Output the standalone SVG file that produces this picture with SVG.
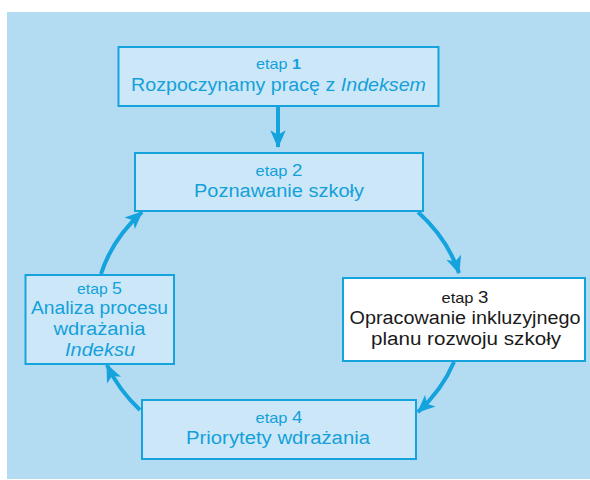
<svg xmlns="http://www.w3.org/2000/svg" width="590" height="480" viewBox="0 0 590 480">
<defs>
<style>
.box{fill:#cce8f8;stroke:#14a3dd;stroke-width:2}
.white{fill:#ffffff;stroke:#14a3dd;stroke-width:2}
text{font-family:"Liberation Sans","Noto Sans",sans-serif;text-anchor:middle;fill:#14a0da}
.sm{font-size:15px}
.num{font-size:17px}
.big{font-size:18px}
.blk{fill:#1a1a1a}
.conn{fill:none;stroke:#14a3dd;stroke-width:4}
</style>
<marker id="ah" markerUnits="userSpaceOnUse" markerWidth="20" markerHeight="20" viewBox="-16 -8 18 16" refX="0" refY="0" orient="auto">
<path d="M1,0 L-15,-7 L-11,0 L-15,7 Z" fill="#14a3dd"/>
</marker>
</defs>
<rect x="7" y="12" width="583" height="467" fill="#b3dcf3"/>
<g id="connectors">
<line class="conn" x1="278" y1="106" x2="278" y2="147" stroke-width="3.5" marker-end="url(#ah)"/>
<path class="conn" d="M418,212 A185,150 0 0 1 459,273" marker-end="url(#ah)"/>
<path class="conn" d="M454,362 A185,150 0 0 1 418,412" marker-end="url(#ah)"/>
<path class="conn" d="M140,410 A185,150 0 0 1 107,365" marker-end="url(#ah)"/>
<path class="conn" d="M101,274 A185,150 0 0 1 142,212" marker-end="url(#ah)"/>
</g>
<g id="etap1">
<rect class="box" x="118.5" y="47" width="320" height="59"/>
<text x="278.5" y="69" class="sm" textLength="45" lengthAdjust="spacingAndGlyphs">etap <tspan font-weight="bold">1</tspan></text>
<text x="278.5" y="91" class="big" textLength="295" lengthAdjust="spacingAndGlyphs">Rozpoczynamy pracę z <tspan font-style="italic">Indeksem</tspan></text>
</g>
<g id="etap2">
<rect class="box" x="135" y="153" width="288" height="58"/>
<text x="279" y="176" class="sm" textLength="47" lengthAdjust="spacingAndGlyphs">etap <tspan class="num">2</tspan></text>
<text x="279" y="197" class="big" textLength="170" lengthAdjust="spacingAndGlyphs">Poznawanie szkoły</text>
</g>
<g id="etap3">
<rect class="white" x="343" y="278" width="242" height="83"/>
<text x="465" y="303" class="sm blk" textLength="47" lengthAdjust="spacingAndGlyphs">etap <tspan class="num">3</tspan></text>
<text x="465" y="324" class="big blk" textLength="231" lengthAdjust="spacingAndGlyphs">Opracowanie inkluzyjnego</text>
<text x="466" y="345" class="big blk" textLength="190" lengthAdjust="spacingAndGlyphs">planu rozwoju szkoły</text>
</g>
<g id="etap4">
<rect class="box" x="142" y="400" width="274" height="59"/>
<text x="279" y="423" class="sm" textLength="47" lengthAdjust="spacingAndGlyphs">etap <tspan class="num">4</tspan></text>
<text x="278" y="444" class="big" textLength="184" lengthAdjust="spacingAndGlyphs">Priorytety wdrażania</text>
</g>
<g id="etap5">
<rect class="box" x="25.5" y="275" width="148.5" height="89"/>
<text x="99.5" y="294" class="sm" textLength="45" lengthAdjust="spacingAndGlyphs">etap <tspan class="num">5</tspan></text>
<text x="99.5" y="314" class="big" textLength="137" lengthAdjust="spacingAndGlyphs">Analiza procesu</text>
<text x="99.5" y="335" class="big" textLength="92" lengthAdjust="spacingAndGlyphs">wdrażania</text>
<text x="100" y="356" class="big" font-style="italic" textLength="70" lengthAdjust="spacingAndGlyphs">Indeksu</text>
</g>
</svg>
